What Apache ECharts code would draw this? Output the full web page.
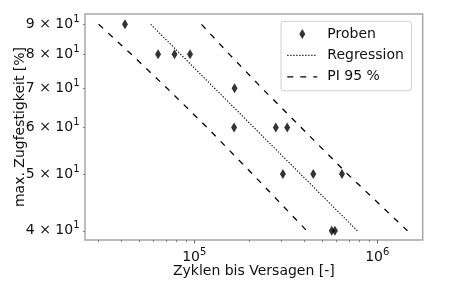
<!DOCTYPE html>
<html>
<head>
<meta charset="utf-8">
<script src="https://cdn.jsdelivr.net/npm/echarts@6/dist/echarts.min.js"></script>
<style>
html, body { margin: 0; padding: 0; background: #fff; }
#chart { width: 460px; height: 289px; }
</style>
</head>
<body>
<div id="chart"></div>
<script>
// ---- Data ----
// Samples: cycles to failure (N) and max. tensile strength (%)
var probenN = [41800, 63400, 78000, 94800, 166000, 165000, 279000, 322000, 305000, 447000, 641000, 564000, 587000];
var probenS = [90, 80, 80, 80, 70, 60, 60, 60, 50, 50, 50, 40, 40];

// Regression line
var regN = [57780, 777700];
var regS = [90, 40];

// 95 % prediction interval (lower / upper)
var piS = [90, 80, 70, 60, 50, 40];
var piLowerN = [30030, 45320, 71040, 117600, 208000, 411900];
var piUpperN = [109500, 155500, 234700, 383800, 687600, 1462200];

// Axis ticks
var xMajorTicks = [1e5, 1e6];
var xMinorTicks = [3e4, 4e4, 5e4, 6e4, 7e4, 8e4, 9e4, 2e5, 3e5, 4e5, 5e5, 6e5, 7e5, 8e5, 9e5];
var yTicks = [40, 50, 60, 70, 80, 90];
var xRange = [25280, 1771000];
var yRange = [38.58, 93.73];

var names = { samples: 'Proben', regression: 'Regression', pi: 'PI 95 %', x: 'Zyklen bis Versagen [-]', y: 'max. Zugfestigkeit [%]' };

// ---- Chart ----
var L = Math.log10;
function pairs(ns, ss) { return ns.map(function (n, i) { return [L(n), L(ss[i])]; }); }

var FONT = 'DejaVu Sans';
var TXT = '#111';
var rich = {
  b: { fontFamily: FONT, fontSize: 14, color: TXT },
  s: { fontFamily: FONT, fontSize: 10, color: TXT, padding: [0, 0, 10, 0] }
};

var chart = echarts.init(document.getElementById('chart'), null, { renderer: 'canvas' });
chart.setOption({
  animation: false,
  backgroundColor: '#fff',
  textStyle: { fontFamily: FONT },
  grid: { left: 85, right: 37.3, top: 14, bottom: 49, containLabel: false, outerBoundsMode: 'none', show: true, borderColor: '#a6a6a6', borderWidth: 1.5, backgroundColor: 'transparent' },
  legend: {
    orient: 'vertical',
    left: 281, top: 21.3,
    padding: [5.7, 7.6, 7, 5.7],
    itemWidth: 30, itemHeight: 10, itemGap: 7.4,
    backgroundColor: 'rgba(255,255,255,0.8)',
    borderColor: '#d0d0d0', borderWidth: 1, borderRadius: 3,
    textStyle: { fontFamily: FONT, fontSize: 14, color: TXT, padding: [0, 0, 0, 5] },
    lineStyle: { width: 1.2 },
    data: [
      { name: names.samples },
      { name: names.regression, itemStyle: { color: 'rgba(0,0,0,0)', borderWidth: 0 } },
      { name: names.pi, itemStyle: { color: 'rgba(0,0,0,0)', borderWidth: 0 } }
    ]
  },
  xAxis: [{
    type: 'value', min: L(xRange[0]), max: L(xRange[1]),
    name: names.x, nameLocation: 'middle', nameGap: 24, nameMoveOverlap: false,
    nameTextStyle: { fontFamily: FONT, fontSize: 14, color: TXT },
    axisLine: { show: false },
    splitLine: { show: false },
    axisTick: { show: true, length: 3.5, customValues: xMajorTicks.map(L), lineStyle: { color: '#666', width: 1 } },
    axisLabel: {
      customValues: xMajorTicks.map(L), margin: 7,
      formatter: function (v) { return '{b|10}{s|' + Math.round(v) + '}'; },
      rich: rich
    }
  }, {
    type: 'value', min: L(xRange[0]), max: L(xRange[1]), position: 'bottom',
    axisLine: { show: false }, splitLine: { show: false }, axisLabel: { show: false },
    axisTick: { show: true, length: 2, customValues: xMinorTicks.map(L), lineStyle: { color: '#666', width: 0.8 } }
  }],
  yAxis: {
    type: 'value', min: L(yRange[0]), max: L(yRange[1]),
    name: names.y, nameLocation: 'middle', nameGap: 58, nameRotate: 90, nameMoveOverlap: false,
    nameTextStyle: { fontFamily: FONT, fontSize: 14, color: TXT },
    axisLine: { show: false },
    splitLine: { show: false },
    axisTick: { show: true, length: 2, customValues: yTicks.map(L), lineStyle: { color: '#666', width: 0.8 } },
    axisLabel: {
      customValues: yTicks.map(L), margin: 5.5,
      formatter: function (v) { return '{b|' + Math.round(Math.pow(10, v) / 10) + ' × 10}{s|1}'; },
      rich: rich
    }
  },
  series: [{
    name: names.samples, type: 'scatter',
    data: pairs(probenN, probenS),
    symbol: 'path://M3,0 L6,5 L3,10 L0,5 Z', symbolSize: [6, 10],
    itemStyle: { color: '#000' }, z: 5
  }, {
    name: names.regression, type: 'line', data: pairs(regN, regS),
    symbol: 'none', showSymbol: false,
    lineStyle: { color: '#000', width: 1.2, type: [1.2, 1.8] }
  }, {
    name: names.pi, type: 'line', data: pairs(piLowerN, piS),
    symbol: 'none', showSymbol: false,
    lineStyle: { color: '#000', width: 1.3, type: [6, 7] }
  }, {
    name: names.pi, type: 'line', data: pairs(piUpperN, piS),
    symbol: 'none', showSymbol: false,
    lineStyle: { color: '#000', width: 1.3, type: [6, 7] }
  }]
});
</script>
</body>
</html>
